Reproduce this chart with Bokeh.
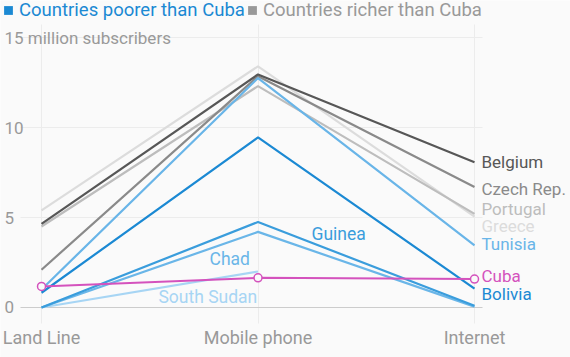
from bokeh.plotting import figure
from bokeh.models import (ColumnDataSource, LabelSet, Legend, LegendItem,
                          FixedTicker, Range1d, Grid)
from bokeh.core.properties import value
from bokeh.embed import file_html
from bokeh.resources import INLINE

# ---- data ----
categories = ["Land Line", "Mobile phone", "Internet"]
nan = float("nan")
greece = [5.4, 13.4, 5.05]
portugal = [4.5, 12.3, 5.2]
czech = [2.1, 12.85, 6.7]
belgium = [4.65, 12.95, 8.07]
south_sudan = [0.0, 2.0, nan]
chad = [0.0, 4.2, 0.05]
guinea = [0.0, 4.75, 0.1]
tunisia = [1.0, 12.75, 3.45]
bolivia = [0.82, 9.45, 1.05]
cuba = [1.17, 1.65, 1.58]

y_ticks = [0, 5, 10, 15]
y_tick_labels = ["0", "5", "10", "15 million subscribers"]

right_names = ["Belgium", "Czech Rep.", "Portugal", "Greece", "Tunisia", "Cuba", "Bolivia"]
right_label_y = [8.1, 6.6, 5.47, 4.55, 3.5, 1.75, 0.76]

inner_names = ["Guinea", "Chad", "South Sudan"]
inner_label_x = [1.247, 0.776, 0.54]
inner_label_y = [4.11, 2.72, 0.56]

legend_labels = ["Countries poorer than Cuba", "Countries richer than Cuba"]

# ---- styles ----
bg = "#fafafa"
FONT = "Roboto"
blue_leg = "#1b89d3"
gray_leg = "#999999"
col = {
    "Greece": "#dcdcdc", "Portugal": "#bdbdbd", "Czech Rep.": "#8a8a8a",
    "Belgium": "#575757", "South Sudan": "#a7d5f4", "Chad": "#6ab6e8",
    "Guinea": "#3a9ddc", "Tunisia": "#69b5e8", "Bolivia": "#1b89d3",
    "Cuba": "#d452bd",
}

xs = list(range(len(categories)))

# plot area spans whole canvas; grid extents limited via cross_bounds
x_lo, x_hi = -0.1894, 2.4434
y_lo, y_hi = -2.778, 17.056
grid_x_bounds = (-0.097, 2.037)
grid_y_bounds = (-0.889, 15.72)

p = figure(width=570, height=357,
           x_range=Range1d(x_lo, x_hi), y_range=Range1d(y_lo, y_hi),
           x_axis_location=None, y_axis_location=None,
           output_backend="svg", toolbar_location=None,
           min_border=0, background_fill_color=bg,
           border_fill_color=bg, outline_line_color=None)

p.xgrid.ticker = FixedTicker(ticks=xs)
p.ygrid.ticker = FixedTicker(ticks=y_ticks[1:])
p.xgrid.grid_line_color = "#ececec"
p.ygrid.grid_line_color = "#ececec"
p.xgrid.cross_bounds = grid_y_bounds
p.ygrid.cross_bounds = grid_x_bounds

zero_grid = Grid(dimension=1, ticker=FixedTicker(ticks=[y_ticks[0]]),
                 grid_line_color="#cccccc", cross_bounds=grid_x_bounds)
p.add_layout(zero_grid)

series = [("Greece", greece), ("Portugal", portugal), ("Czech Rep.", czech),
          ("Belgium", belgium), ("South Sudan", south_sudan), ("Chad", chad),
          ("Guinea", guinea), ("Tunisia", tunisia), ("Bolivia", bolivia)]
for name, vals in series:
    p.line(xs, vals, line_color=col[name], line_width=2.2)

p.line(xs, cuba, line_color=col["Cuba"], line_width=2)
p.scatter(xs, cuba, size=8, marker="circle", fill_color=bg,
          line_color=col["Cuba"], line_width=1.5)


def labels(src, fs="17px", **kw):
    return LabelSet(x="x", y="y", text="text", source=src,
                    text_font=value(FONT), text_font_size=fs,
                    text_baseline="middle", **kw)

# right-hand labels
rsrc = ColumnDataSource(dict(x=[xs[-1]] * len(right_names), y=right_label_y,
                             text=right_names,
                             color=[col[n] for n in right_names]))
p.add_layout(labels(rsrc, x_offset=7, text_color="color", text_align="left"))

isrc = ColumnDataSource(dict(x=inner_label_x, y=inner_label_y, text=inner_names,
                             color=[col[n] for n in inner_names]))
p.add_layout(labels(isrc, fs="17.5px", text_color="color", text_align="left"))

# y tick labels
tsrc = ColumnDataSource(dict(x=[x_lo] * len(y_ticks), y=y_ticks,
                             text=y_tick_labels))
p.add_layout(labels(tsrc, x_offset=4, text_color="#999999", text_align="left"))

# x category labels
csrc = ColumnDataSource(dict(x=xs, y=[y_ticks[0]] * len(xs), text=categories))
p.add_layout(labels(csrc, fs="18px", y_offset=-30, text_color="#999999",
                    text_align="center"))

# legends (square swatches)
r_poor = p.scatter(x=[nan], y=[nan], marker="square", size=9,
                   fill_color=blue_leg, line_color=None)
r_rich = p.scatter(x=[nan], y=[nan], marker="square", size=9,
                   fill_color=gray_leg, line_color=None)


def mk_legend(label, r, color, loc):
    return Legend(items=[LegendItem(label=label, renderers=[r])], location=loc,
                  label_text_color=color, label_text_font=FONT,
                  label_text_font_size="18.5px", glyph_width=22, glyph_height=22,
                  label_standoff=0, label_height=22, padding=0, margin=0,
                  spacing=0, border_line_alpha=0, background_fill_alpha=0,
                  label_text_baseline="middle")

p.add_layout(mk_legend(legend_labels[0], r_poor, blue_leg, (-3, 336)))
p.add_layout(mk_legend(legend_labels[1], r_rich, gray_leg, (241, 336)))

html = file_html(p, INLINE)
html = html.replace("<body>", '<body style="background:#fafafa">', 1)
open("out.html", "w").write(html)
